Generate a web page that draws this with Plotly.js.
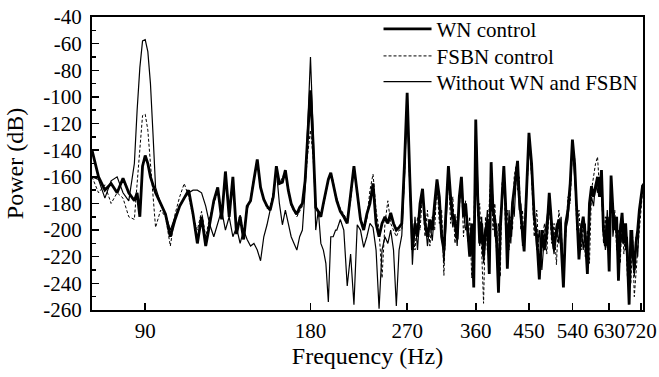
<!DOCTYPE html>
<html>
<head>
<meta charset="utf-8">
<script src="https://cdn.plot.ly/plotly-3.0.1.min.js"></script>
<style>html,body{margin:0;padding:0;background:#fff;}#chart{width:659px;height:377px;}</style>
</head>
<body>
<div id="chart"></div>
<script>
// Frequency (Hz)
const freq = [
72,74,76,78,80,82,84,86,87,88,89,90,91,92,93,94,
96,98,100,102,104,106,108,110,112,114,116,118,120,122,124,126,128,130,
132,134,136,138,140,142,144,146,148,150,152,154,156,158,160,162,164,166,
168,170,172,174,176,178,180,182,184,186,188,190,192,194,196,198,200,
201,204,207,210,213,216,219,222,225,228,231,234,237,240,243,246,249,252,
255,258,261,264,267,270,273,276,279,282,285,288,291,294,297,300,303,306,
309,312,315,318,321,324,327,330,333,336,339,342,345,348,351,354,357,360,
363,366,369,372,375,378,381,384,387,390,393,396,399,402,405,408,411,414,
417,420,423,426,429,432,435,438,441,444,447,450,
455,460,465,470,475,480,485,490,495,500,505,510,515,520,525,530,535,540,
545,550,555,560,565,570,575,580,585,590,595,600,605,610,615,620,625,630,
635,640,645,650,655,660,665,670,675,680,685,690,695,700,705,710,715,720,725
];

// Power (dB) — WN control
const wnControl = [
-140,-160,-170,-165,-172,-161,-172,-178,-172,-190,-152,-144,-150,-160,-166,-172,
-180,-188,-205,-192,-182,-176,-170,-188,-210,-190,-212,-195,-178,-168,-192,-156,-190,-160,
-203,-190,-207,-182,-178,-162,-147,-168,-177,-182,-185,-175,-152,-165,-164,-155,-170,-180,
-185,-188,-183,-180,-163,-128,-95,-135,-183,-186,-190,-180,-170,-162,-157,-165,-175,
-178,-186,-190,-195,-175,-152,-172,-192,-200,-188,-180,-165,-195,-205,-195,-190,-195,-187,
-195,-200,-198,-195,-150,-97,-160,-215,-195,-205,-180,-169,-195,-205,-192,-200,-180,-162,
-175,-205,-215,-185,-152,-175,-190,-195,-207,-175,-160,-190,-180,-200,-220,-195,-243,-117,
-175,-210,-195,-220,-200,-194,-233,-149,-185,-192,-210,-247,-200,-175,-152,-180,-229,-195,
-205,-180,-170,-160,-148,-175,-190,-205,-216,-185,-160,-127,
-150,-190,-205,-237,-200,-215,-202,-172,-196,-214,-200,-192,-210,-243,-195,-185,-165,-132,
-150,-190,-222,-200,-190,-205,-233,-180,-167,-175,-168,-160,-175,-155,-200,-212,-190,-231,
-159,-185,-200,-190,-238,-200,-187,-210,-195,-220,-256,-200,-215,-230,-210,-200,-185,-175,-166
];

// Power (dB) — FSBN control
const fsbnControl = [
-160,-172,-166,-180,-172,-176,-190,-192,-165,-138,-114,-113,-125,-150,-175,-198,
-185,-190,-212,-188,-175,-165,-175,-190,-200,-186,-205,-190,-180,-172,-188,-158,-185,-162,
-200,-188,-203,-185,-176,-160,-149,-168,-176,-184,-182,-172,-155,-166,-160,-157,-172,-182,
-186,-190,-186,-182,-166,-142,-125,-145,-182,-185,-188,-182,-172,-163,-158,-163,-176,
-176,-184,-188,-193,-178,-155,-170,-190,-198,-192,-170,-158,-185,-200,-236,-195,-178,-195,
-200,-205,-200,-200,-160,-100,-170,-200,-215,-190,-200,-172,-205,-185,-212,-190,-200,-165,
-195,-185,-234,-180,-158,-195,-175,-210,-190,-185,-162,-205,-178,-209,-190,-236,-205,-118,
-190,-180,-215,-255,-190,-215,-180,-155,-200,-180,-220,-195,-235,-165,-156,-200,-185,-215,
-190,-200,-160,-152,-170,-160,-200,-185,-210,-175,-165,-130,
-160,-205,-185,-225,-215,-195,-218,-180,-210,-195,-226,-185,-200,-230,-205,-175,-180,-136,
-145,-200,-185,-215,-195,-220,-200,-225,-170,-160,-150,-145,-170,-165,-210,-190,-215,-200,
-168,-200,-185,-215,-200,-225,-190,-218,-200,-235,-220,-240,-205,-250,-230,-215,-200,-185,-170
];

// Power (dB) — Without WN and FSBN
const withoutControl = [
-160,-162,-176,-163,-160,-172,-178,-150,-110,-78,-58,-57,-66,-90,-128,-168,
-180,-188,-200,-190,-182,-176,-172,-170,-170,-172,-182,-196,-205,-195,-185,-200,-190,-205,
-198,-210,-200,-207,-212,-210,-215,-223,-205,-196,-186,-174,-155,-180,-196,-185,-195,-205,
-210,-215,-205,-200,-170,-120,-70,-125,-200,-185,-210,-215,-225,-254,-205,-205,-200,
-200,-192,-200,-242,-218,-256,-196,-200,-213,-205,-195,-198,-215,-259,-215,-205,-210,-200,
-215,-257,-215,-204,-160,-100,-165,-226,-190,-215,-185,-175,-190,-212,-195,-208,-185,-170,
-182,-200,-225,-195,-160,-182,-198,-188,-212,-180,-168,-185,-200,-195,-215,-210,-225,-120,
-170,-212,-190,-225,-205,-185,-228,-160,-178,-205,-195,-240,-190,-182,-158,-190,-220,-185,
-210,-178,-190,-165,-158,-185,-180,-212,-195,-190,-165,-130,
-158,-185,-215,-200,-230,-205,-190,-178,-205,-218,-195,-210,-190,-235,-200,-192,-170,-138,
-160,-185,-210,-195,-215,-195,-228,-190,-175,-182,-165,-172,-160,-175,-195,-215,-185,-225,
-162,-205,-190,-210,-225,-195,-210,-195,-215,-205,-245,-215,-200,-235,-205,-220,-190,-180,-165
];

const xTickVals = [90, 180, 270, 360, 450, 540, 630, 720];
const xTickText = ['90', '180', '270', '360', '450', '540', '630', '720'];
const yTickVals = [-260, -240, -220, -200, -180, -160, -140, -120, -100, -80, -60, -40];
const yTickText = ['-260', '-240', '-220', '-200', '-180', '-160', '-140', '-120', '-100', '-80', '-60', '-40'];

const traces = [
  {x: freq, y: wnControl, name: 'WN control', type: 'scatter', mode: 'lines',
   line: {color: '#000', width: 2.8}, legend: 'legend'},
  {x: freq, y: fsbnControl, name: 'FSBN control', type: 'scatter', mode: 'lines',
   line: {color: '#000', width: 1, dash: '3px,2px'}, legend: 'legend2'},
  {x: freq, y: withoutControl, name: 'Without WN and FSBN', type: 'scatter', mode: 'lines',
   line: {color: '#000', width: 1.2}, legend: 'legend3'}
];

const font = 'Liberation Serif';
function legendAt(yPaper) {
  return {x: 0.52, y: yPaper, xanchor: 'left', yanchor: 'middle', bgcolor: 'rgba(0,0,0,0)',
          borderwidth: 0, font: {family: font, size: 21, color: '#000'}, itemwidth: 48};
}
const layout = {
  width: 659, height: 377,
  margin: {l: 92, r: 16, t: 9, b: 67, pad: 0},
  paper_bgcolor: '#fff', plot_bgcolor: '#fff',
  font: {family: font, size: 21, color: '#000'},
  showlegend: true,
  legend: legendAt(0.958),
  legend2: legendAt(0.866),
  legend3: legendAt(0.778),
  xaxis: {
    type: 'log', range: [Math.log10(72), Math.log10(726)],
    tickmode: 'array', tickvals: xTickVals, ticktext: xTickText, tickangle: 0,
    ticks: 'inside', ticklen: 7, tickwidth: 1.5, tickcolor: '#000',
    showline: true, linewidth: 2, linecolor: '#000', mirror: true,
    showgrid: false, zeroline: false, ticklabelstandoff: 1,
    tickfont: {family: font, size: 21, color: '#000'},
    title: {text: 'Frequency (Hz)', font: {family: font, size: 24, color: '#000'}, standoff: 2}
  },
  yaxis: {
    range: [-260, -40],
    tickmode: 'array', tickvals: yTickVals, ticktext: yTickText,
    ticks: 'inside', ticklen: 7, tickwidth: 1.5, tickcolor: '#000',
    minor: {tickmode: 'linear', tick0: -250, dtick: 20, ticks: 'inside', ticklen: 4, tickwidth: 1.5, tickcolor: '#000', showgrid: false},
    showline: true, linewidth: 2, linecolor: '#000', mirror: true,
    showgrid: false, zeroline: false, ticklabelstandoff: 4,
    tickfont: {family: font, size: 21, color: '#000'},
    title: {text: 'Power (dB)', font: {family: font, size: 24, color: '#000'}, standoff: 13}
  }
};

Plotly.newPlot('chart', traces, layout, {staticPlot: true, displayModeBar: false});
</script>
</body>
</html>
